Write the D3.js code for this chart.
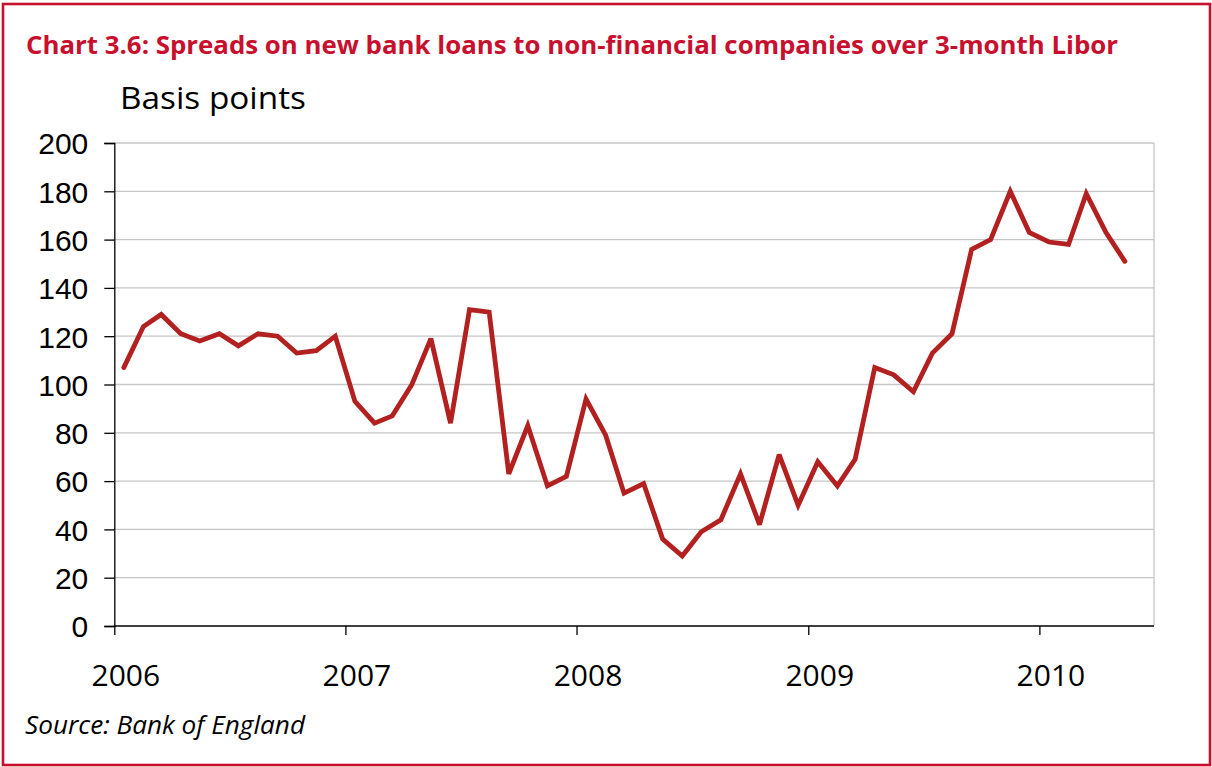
<!DOCTYPE html>
<html>
<head>
<meta charset="utf-8">
<script src="https://cdn.jsdelivr.net/npm/d3@7"></script>
<style>
  html, body { margin: 0; padding: 0; background: #fff; }
  svg { display: block; }
</style>
</head>
<body>
<svg id="chart" width="1212" height="767"></svg>
<script>
// Monthly spreads (basis points) over 3-month Libor, Jan 2006 – May 2010
const firstMonth = "2006-01";
const spreads = [
  107, 124, 129, 121, 118, 121, 116, 121, 120, 113, 114, 120,   // 2006
   93,  84,  87, 100, 119,  84, 131, 130,  63,  83,  58,  62,   // 2007
   94,  79,  55,  59,  36,  29,  39,  44,  63,  42,  71,  50,   // 2008
   68,  58,  69, 107, 104,  97, 113, 121, 156, 160, 180, 163,   // 2009
  159, 158, 179, 163, 151                                       // 2010
];
const yTicks = [0, 20, 40, 60, 80, 100, 120, 140, 160, 180, 200];
const yearTicks = [2006, 2007, 2008, 2009, 2010];

const titleText = "Chart 3.6: Spreads on new bank loans to non-financial companies over 3-month Libor";
const unitText = "Basis points";
const sourceText = "Source: Bank of England";

const red = "#c8102e";
const lineRed = "#b2201f";

const svg = d3.select("#chart");

// outer frame
svg.append("rect")
  .attr("x", 3).attr("y", 4)
  .attr("width", 1207).attr("height", 761)
  .attr("fill", "none").attr("stroke", red).attr("stroke-width", 2.6);

// title
svg.append("text")
  .attr("x", 26).attr("y", 54)
  .attr("font-family", "'Open Sans', 'Noto Sans', sans-serif")
  .attr("font-weight", 700).attr("font-size", 24.5)
  .attr("fill", red)
  .attr("textLength", 1092).attr("lengthAdjust", "spacingAndGlyphs")
  .text(titleText);

// unit label
svg.append("text")
  .attr("x", 120).attr("y", 109)
  .attr("font-family", "'Open Sans', 'Noto Sans', sans-serif")
  .attr("font-size", 31).attr("fill", "#000")
  .attr("textLength", 186).attr("lengthAdjust", "spacingAndGlyphs")
  .text(unitText);

// source note
svg.append("text")
  .attr("x", 25).attr("y", 734)
  .attr("font-family", "'Open Sans', 'Noto Sans', sans-serif")
  .attr("font-style", "italic")
  .attr("font-size", 25.5).attr("fill", "#000")
  .attr("textLength", 280).attr("lengthAdjust", "spacingAndGlyphs")
  .text(sourceText);

// plot geometry
const plotLeft = 114.3, plotRight = 1154, plotTop = 143, plotBottom = 626;

const parseMonth = d3.timeParse("%Y-%m");
const start = parseMonth(firstMonth);
const dates = spreads.map((_, i) => d3.timeDay.offset(d3.timeMonth.offset(start, i), 15));

const x = d3.scaleTime()
  .domain([start, d3.timeMonth.offset(start, 54)])
  .range([plotLeft, plotRight]);
const y = d3.scaleLinear().domain([0, 200]).range([plotBottom, plotTop]);

// horizontal gridlines
svg.append("g")
  .selectAll("line")
  .data(yTicks.filter(v => v > 0))
  .join("line")
  .attr("x1", plotLeft).attr("x2", plotRight)
  .attr("y1", d => y(d)).attr("y2", d => y(d))
  .attr("stroke", "#c6c6c6").attr("stroke-width", 1.3);

// right edge of plot area
svg.append("line")
  .attr("x1", plotRight).attr("x2", plotRight)
  .attr("y1", plotTop).attr("y2", plotBottom)
  .attr("stroke", "#c6c6c6").attr("stroke-width", 1.3);

// y axis
const yAxis = d3.axisLeft(y).tickValues(yTicks).tickSize(10).tickPadding(16);
const gy = svg.append("g").attr("transform", `translate(${plotLeft},0)`).call(yAxis);
gy.select(".domain").attr("stroke", "#000").attr("stroke-width", 1.3);
gy.selectAll(".tick line").attr("stroke", "#000").attr("stroke-width", 1.3);
gy.selectAll(".tick text")
  .attr("font-family", "'Liberation Sans', Arial, sans-serif")
  .attr("font-size", 30).attr("fill", "#000")
  .attr("dy", "0.36em");

// x axis
const yearDates = yearTicks.map(yr => new Date(yr, 0, 1));
const xAxis = d3.axisBottom(x).tickValues(yearDates).tickSize(9)
  .tickFormat(d3.timeFormat("%Y")).tickSizeOuter(0);
const gx = svg.append("g").attr("transform", `translate(0,${plotBottom})`).call(xAxis);
gx.select(".domain").attr("stroke", "#000").attr("stroke-width", 1.5)
  .attr("d", `M${plotLeft},0H${plotRight}`);
gx.selectAll(".tick line").attr("stroke", "#000").attr("stroke-width", 1.3);
gx.selectAll(".tick text")
  .attr("font-family", "'Open Sans', 'Noto Sans', sans-serif")
  .attr("font-size", 30).attr("fill", "#000")
  .attr("x", 11).attr("y", 60).attr("dy", 0);

// series line
const line = d3.line()
  .x((d, i) => x(dates[i]))
  .y(d => y(d));

svg.append("path")
  .datum(spreads)
  .attr("d", line)
  .attr("fill", "none")
  .attr("stroke", lineRed)
  .attr("stroke-width", 4.8)
  .attr("stroke-linejoin", "miter")
  .attr("stroke-miterlimit", 3)
  .attr("stroke-linecap", "round");
</script>
</body>
</html>
